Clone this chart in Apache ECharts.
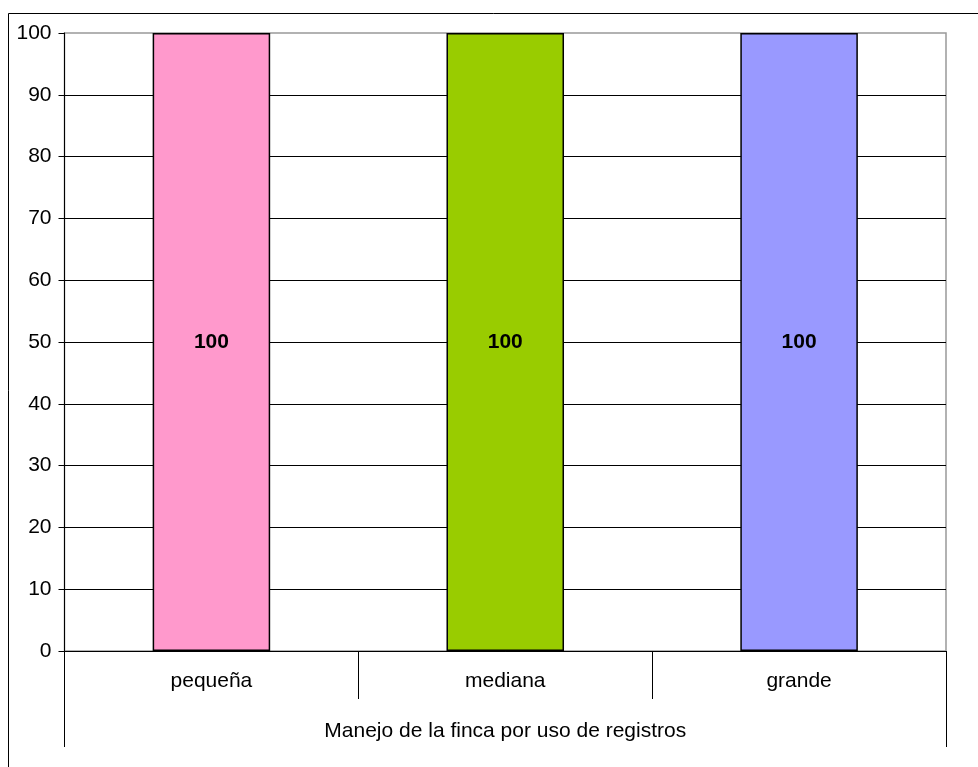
<!DOCTYPE html>
<html><head><meta charset="utf-8">
<script src="https://cdn.jsdelivr.net/npm/echarts@6/dist/echarts.min.js"></script>
<style>html,body{margin:0;padding:0;background:#fff}#c{width:978px;height:767px}</style>
</head><body><div id="c"></div>
<script>
const categories = ['pequeña', 'mediana', 'grande'];
const values = [100, 100, 100];
const barColors = ['#FF99CC', '#99CC00', '#9999FF'];
const groupLabel = ['Manejo de la finca por uso de registros'];
const yTicks = {min: 0, max: 100, interval: 10};

const chart = echarts.init(document.getElementById('c'), null, {renderer: 'canvas'});
const font = 'Liberation Sans, Arial, sans-serif';
chart.setOption({
  animation: false,
  backgroundColor: '#fff',
  graphic: [{type: 'rect', shape: {x: 8.5, y: 13.5, width: 1200, height: 1000}, style: {fill: 'none', stroke: '#000', lineWidth: 1}, silent: true}],
  grid: {left: 64.5, top: 33, right: 32, bottom: 116, show: true, borderColor: '#999', borderWidth: 1.5, backgroundColor: 'transparent'},
  xAxis: [{
    type: 'category', data: categories, position: 'bottom',
    axisLine: {lineStyle: {color: '#000', width: 1}},
    axisTick: {show: true, alignWithLabel: false, interval: 0, length: 48, lineStyle: {color: '#000'}},
    axisLabel: {color: '#000', fontFamily: font, fontSize: 21, margin: 20}
  }, {
    type: 'category', data: groupLabel, position: 'bottom', offset: 48,
    axisLine: {show: false},
    axisTick: {show: true, interval: 0, length: 48, lineStyle: {color: '#000'}},
    axisLabel: {color: '#000', fontFamily: font, fontSize: 21, margin: 22}
  }],
  yAxis: {
    type: 'value', min: yTicks.min, max: yTicks.max, interval: yTicks.interval,
    axisLine: {show: true, lineStyle: {color: '#000'}},
    axisTick: {show: true, length: 6, lineStyle: {color: '#000'}},
    axisLabel: {color: '#000', fontFamily: font, fontSize: 21, margin: 13},
    splitLine: {show: true, showMaxLine: false, lineStyle: {color: '#000', width: 1}}
  },
  series: [{
    type: 'bar', xAxisIndex: 0, data: values.map((v, i) => ({value: v, itemStyle: {color: barColors[i]}})),
    barWidth: '40%',
    itemStyle: {borderColor: '#000', borderWidth: 1.5},
    label: {show: true, position: 'inside', color: '#000', fontFamily: font, fontSize: 21, fontWeight: 'bold'}
  }]
});
</script></body></html>
